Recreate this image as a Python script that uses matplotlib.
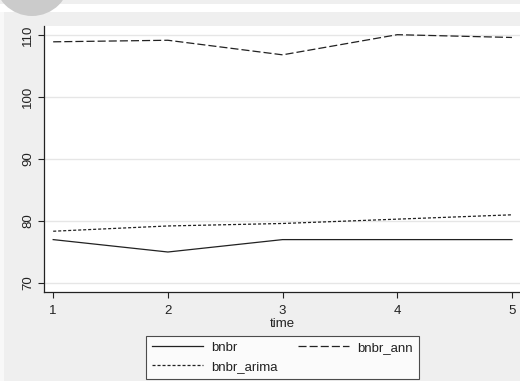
import matplotlib
matplotlib.use("Agg")
import matplotlib.pyplot as plt
from matplotlib.patches import Circle, Rectangle

plt.rcParams["font.family"] = ["Liberation Sans", "DejaVu Sans"]
plt.rcParams["lines.scale_dashes"] = False

time = [1, 2, 3, 4, 5]
bnbr = [77.0, 75.0, 77.0, 77.0, 77.0]
bnbr_ann = [108.9, 109.15, 106.8, 110.05, 109.6]
bnbr_arima = [78.35, 79.2, 79.6, 80.3, 81.0]

yticks = [70, 80, 90, 100, 110]

bg = "#efefef"
ink = "#222222"

fig = plt.figure(figsize=(5.2, 3.81), dpi=100, facecolor=bg)

# header strip and the corner badge
fig.patches.append(Rectangle((0, 1 - 12 / 381), 1, 8 / 381, transform=fig.transFigure,
                             facecolor="white", edgecolor="none", zorder=0))
fig.patches.append(Rectangle((0, 0), 4 / 520, 1 - 12 / 381, transform=fig.transFigure,
                             facecolor="#f8f8f8", edgecolor="none", zorder=0))
badge = Circle((32, 381 + 22), 38, transform=None, facecolor="#cbcbcb",
               edgecolor="none", zorder=1)
fig.patches.append(badge)

ax = fig.add_axes([44 / 520, 89 / 381, 476 / 520, 266 / 381])
ax.set_facecolor("white")

ax.plot(time, bnbr, color=ink, lw=0.9, label="bnbr")
ax.plot(time, bnbr_ann, color=ink, lw=0.9, dashes=(5.8, 2.2), label="bnbr_ann")
ax.plot(time, bnbr_arima, color=ink, lw=0.9, dashes=(2.2, 1.4), label="bnbr_arima")

ax.set_xlim(0.92, 5.07)
ax.set_ylim(68.55, 111.45)
ax.set_xticks(time)
ax.set_yticks(yticks)
ax.set_yticklabels([str(v) for v in yticks], rotation=90, va="center")
ax.tick_params(axis="both", direction="out", length=4, width=0.8, color=ink,
               labelsize=9.5, labelcolor=ink, pad=3)
ax.tick_params(axis="x", pad=5)
ax.grid(axis="y", color="#e6e6e6", lw=1)
ax.set_axisbelow(True)

for side in ("top", "right"):
    ax.spines[side].set_visible(False)
for side in ("left", "bottom"):
    ax.spines[side].set_color(ink)
    ax.spines[side].set_linewidth(0.9)

ax.set_xlabel("time", fontsize=9.5, color=ink, labelpad=1)

handles, labels = ax.get_legend_handles_labels()
order = [0, 2, 1]
leg = fig.legend([handles[i] for i in order], [labels[i] for i in order],
                 loc="lower center", bbox_to_anchor=(0.543, 0.006), ncol=2,
                 fontsize=9.5, handlelength=3.9, handletextpad=0.6,
                 columnspacing=1.5, labelspacing=0.5, borderpad=0.45,
                 borderaxespad=0, fancybox=False, frameon=True)
leg.get_frame().set_edgecolor(ink)
leg.get_frame().set_linewidth(0.8)
leg.get_frame().set_facecolor("white")
for t in leg.get_texts():
    t.set_color(ink)

plt.savefig("out.png", dpi=100, facecolor=bg)
plt.close()
